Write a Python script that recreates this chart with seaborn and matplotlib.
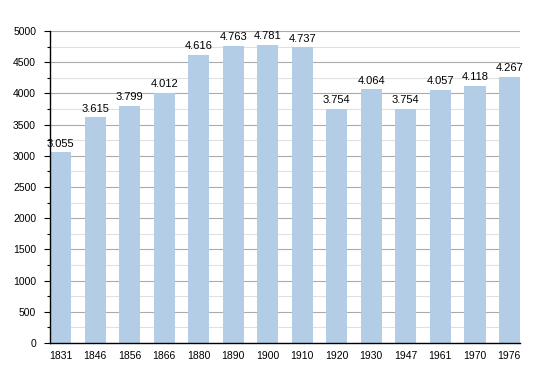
import matplotlib
matplotlib.use("Agg")
import matplotlib.pyplot as plt
import seaborn as sns
import pandas as pd
from matplotlib.ticker import MultipleLocator

# population by census year
years = ["1831", "1846", "1856", "1866", "1880", "1890", "1900",
         "1910", "1920", "1930", "1947", "1961", "1970", "1976"]
population = [3055, 3615, 3799, 4012, 4616, 4763, 4781,
              4737, 3754, 4064, 3754, 4057, 4118, 4267]

df = pd.DataFrame({"Year": years, "Population": population})

sns.set_style("white")
plt.rcParams["font.family"] = ["Liberation Sans", "DejaVu Sans"]
plt.rcParams["text.color"] = "black"
plt.rcParams["xtick.color"] = "black"
plt.rcParams["ytick.color"] = "black"

fig = plt.figure(figsize=(5.5, 3.73), dpi=100)
ax = fig.add_axes([0.0909, 0.0804, 0.8546, 0.8366])

sns.barplot(x="Year", y="Population", data=df, color="#b3cde6",
            saturation=1, width=0.62, linewidth=0, ax=ax, zorder=2)

for i, v in enumerate(population):
    label = f"{v:,}".replace(",", ".")
    ax.text(i, v + 60, label, ha="center", va="bottom", fontsize=8)

ax.set_ylim(0, 5000)
ax.set_xlim(-0.31, len(years) - 1 + 0.31)
ax.yaxis.set_major_locator(MultipleLocator(500))
ax.yaxis.set_minor_locator(MultipleLocator(250))
ax.grid(which="major", axis="y", color="#aaaaaa", linewidth=0.8, zorder=0)
ax.grid(which="minor", axis="y", color="#e0e0e0", linewidth=0.8, zorder=0)
ax.set_axisbelow(True)

for s in ["top", "right"]:
    ax.spines[s].set_visible(False)
ax.spines["left"].set_color("black")
ax.spines["bottom"].set_color("black")
ax.spines["left"].set_linewidth(1)
ax.spines["bottom"].set_linewidth(1)

ax.tick_params(axis="y", which="major", left=True, length=4, width=0.8,
               labelsize=7.5, pad=6, colors="black")
ax.tick_params(axis="y", which="minor", left=True, length=2, width=0.8)
ax.tick_params(axis="x", bottom=False, labelsize=7.5, pad=2, colors="black")
ax.set_xlabel("")
ax.set_ylabel("")

fig.savefig("out.png", dpi=100)
